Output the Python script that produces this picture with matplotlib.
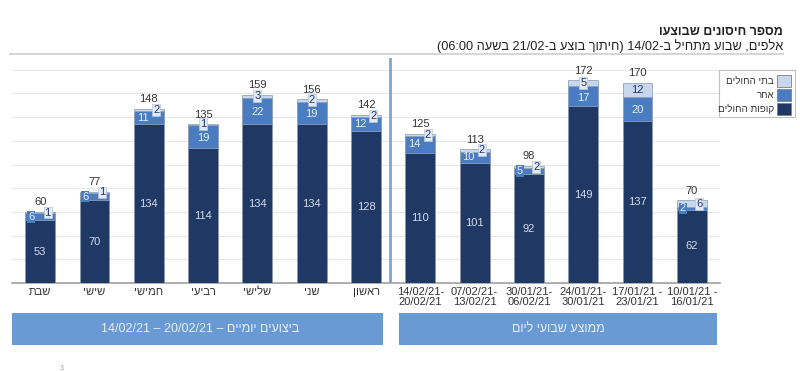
import re
import matplotlib
matplotlib.use('Agg')
import matplotlib.pyplot as plt
from matplotlib.patches import Rectangle
from matplotlib.lines import Line2D

plt.rcParams['font.family'] = ['Liberation Sans', 'DejaVu Sans']


def rtl(s):
    # matplotlib has no bidi support: put hebrew text in visual order
    out = s[::-1].translate(str.maketrans('()', ')('))
    return re.sub(r'[0-9/:]+', lambda m: m.group(0)[::-1], out)


# data (thousands)
days = ['שבת', 'שישי', 'חמישי', 'רביעי', 'שלישי', 'שני', 'ראשון']
weeks = ['14/02/21-\n20/02/21', '07/02/21-\n13/02/21', '30/01/21-\n06/02/21',
         '24/01/21-\n30/01/21', '17/01/21 -\n23/01/21', '10/01/21 -\n16/01/21']
kupot = [53, 70, 134, 114, 134, 134, 128, 110, 101, 92, 149, 137, 62]
other = [6, 6, 11, 19, 22, 19, 12, 14, 10, 5, 17, 20, 2]
hosp = [1, 1, 2, 1, 3, 2, 2, 2, 2, 2, 5, 12, 6]
totals = [60, 77, 148, 135, 159, 156, 142, 125, 113, 98, 172, 170, 70]

series_names = ['קופות החולים', 'אחר', 'בתי החולים']
c_dark, c_mid, c_light = '#1f3864', '#4a7cc1', '#c8d6ee'
box_color = '#6a9ad3'

labels = [rtl(d) for d in days] + weeks
x = list(range(len(labels)))
w = 0.55
fs = 8

fig = plt.figure(figsize=(8, 3.71), dpi=100)
ax = fig.add_axes([0.015, 0.237, 0.885, 0.607])

ax.bar(x, kupot, w, color=c_dark, edgecolor='#8797ad', linewidth=0.5, zorder=3)
ax.bar(x, other, w, bottom=kupot, color=c_mid, edgecolor='#8797ad', linewidth=0.5, zorder=3)
bot3 = [a + b for a, b in zip(kupot, other)]
ax.bar(x, hosp, w, bottom=bot3, color=c_light, edgecolor='#8797ad', linewidth=0.5, zorder=3)

box = dict(boxstyle='square,pad=0.08', fc='#e3eaf5', ec='#b9c6d8', lw=0.5)
mid_box = dict(boxstyle='square,pad=0.08', fc=c_mid, ec='none')
for i in x:
    top = bot3[i] + hosp[i]
    ax.text(i, kupot[i] / 2, str(kupot[i]), ha='center', va='center',
            fontsize=fs, color='#d5dcea', zorder=5)
    small = other[i] < 15
    ym = kupot[i] + other[i] / 2
    if small:
        ax.text(i - w / 2 + 0.05, ym, str(other[i]), ha='left', va='center',
                fontsize=fs, color='#e8eef8', zorder=5,
                bbox=mid_box if other[i] < 8 else None)
    else:
        ax.text(i, ym - 1, str(other[i]), ha='center', va='center',
                fontsize=fs, color='#e8eef8', zorder=5)
    yh = bot3[i] + hosp[i] / 2
    if small:
        ax.text(i + w / 2 - 0.08, yh, str(hosp[i]), ha='right', va='center',
                fontsize=fs, color='#1f3864', zorder=6, bbox=box)
    elif hosp[i] < 8:
        ax.text(i, yh + 0.5, str(hosp[i]), ha='center', va='center',
                fontsize=fs, color='#1f3864', zorder=6, bbox=box)
    else:
        ax.text(i, yh, str(hosp[i]), ha='center', va='center',
                fontsize=fs, color='#1f3864', zorder=6)
    ax.text(i, top + 8, str(totals[i]), ha='center', va='center',
            fontsize=fs, color='#333333', zorder=5)

ax.set_xlim(-0.52, 12.52)
ax.set_ylim(0, 190)
ax.set_yticks(range(20, 181, 20))
ax.yaxis.grid(True, color='#e8e8e8', linewidth=0.8, zorder=0)
ax.tick_params(axis='y', left=False, labelleft=False)
ax.set_xticks(x)
ax.set_xticklabels(labels, fontsize=8, color='#333333', linespacing=0.95)
ax.tick_params(axis='x', length=0, pad=3)
for s in ['top', 'left', 'right']:
    ax.spines[s].set_visible(False)
ax.spines['bottom'].set_color('#a0a0a0')
ax.spines['bottom'].set_linewidth(1.2)
ax.axvline(6.45, color='#7aa5d6', linewidth=2, zorder=4)

# legend, drawn right to left
leg_colors = [c_light, c_mid, c_dark]
leg_names = [series_names[2], series_names[1], series_names[0]]
fig.patches.append(Rectangle((719 / 800, 1 - 117 / 371), 76 / 800, 47 / 371,
                             transform=fig.transFigure, fc='white', ec='#bfbfbf', lw=0.8))
for k, (c, n) in enumerate(zip(leg_colors, leg_names)):
    yc = 1 - (80.5 + 14 * k) / 371
    fig.patches.append(Rectangle((777 / 800, yc - 6 / 371), 14 / 800, 12 / 371,
                                 transform=fig.transFigure, fc=c, ec='#7f7f7f', lw=0.6))
    fig.text(774 / 800, yc, rtl(n), ha='right', va='center', fontsize=7, color='#333333')

# titles
fig.text(0.979, 1 - 32 / 371, rtl('מספר חיסונים שבוצעו'), ha='right', va='center',
         fontsize=9, fontweight='bold', color='#222222')
fig.text(0.979, 1 - 46 / 371,
         rtl('אלפים, שבוע מתחיל ב-14/02 (חיתוך בוצע ב-21/02 בשעה 06:00)'),
         ha='right', va='center', fontsize=9.2, color='#222222')
fig.lines.append(Line2D([10 / 800, 783 / 800], [1 - 54 / 371, 1 - 54 / 371],
                        transform=fig.transFigure, color='#d6d6d6', lw=1.5))

# bottom group boxes
fig.patches.append(Rectangle((12 / 800, 1 - 345 / 371), 371 / 800, 32 / 371,
                             transform=fig.transFigure, fc=box_color, ec='none'))
fig.text(200 / 800, 1 - 329 / 371, '14/02/21 – 20/02/21 – ' + rtl('ביצועים יומיים'),
         ha='center', va='center', fontsize=9, color='#e6eef8')
fig.patches.append(Rectangle((399 / 800, 1 - 345 / 371), 318 / 800, 32 / 371,
                             transform=fig.transFigure, fc=box_color, ec='none'))
fig.text(558 / 800, 1 - 329 / 371, rtl('ממוצע שבועי ליום'),
         ha='center', va='center', fontsize=9, color='#e6eef8')

fig.text(62 / 800, 1 - 369 / 371, '3', ha='center', va='center', fontsize=5, color='#999999')

fig.savefig('out.png', dpi=100)
